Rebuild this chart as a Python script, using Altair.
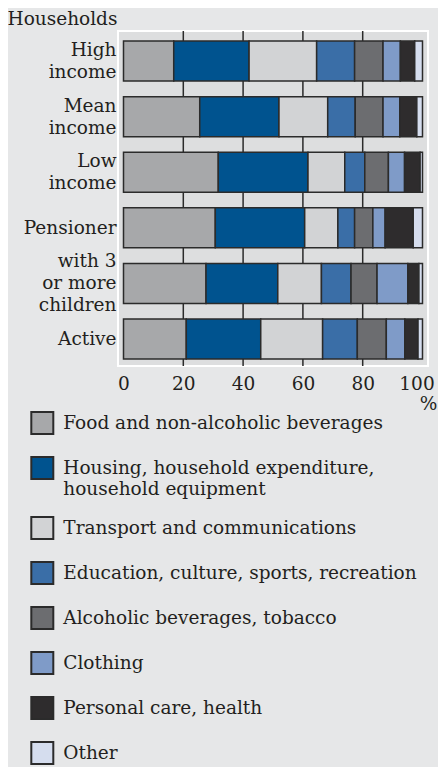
import altair as alt
import pandas as pd

FONT = "DejaVu Serif"
TEXT = "#231f20"

households = ["High income", "Mean income", "Low income", "Pensioner",
              "with 3 or more children", "Active"]
household_lines = [["High", "income"], ["Mean", "income"], ["Low", "income"],
                   ["Pensioner"], ["with 3", "or more", "children"], ["Active"]]

categories = [
    "Food and non-alcoholic beverages",
    "Housing, household expenditure, household equipment",
    "Transport and communications",
    "Education, culture, sports, recreation",
    "Alcoholic beverages, tobacco",
    "Clothing",
    "Personal care, health",
    "Other",
]
category_lines = [
    ["Food and non-alcoholic beverages"],
    ["Housing, household expenditure,", "household equipment"],
    ["Transport and communications"],
    ["Education, culture, sports, recreation"],
    ["Alcoholic beverages, tobacco"],
    ["Clothing"],
    ["Personal care, health"],
    ["Other"],
]
colors = ["#a7a8aa", "#00538f", "#d2d3d5", "#3a6ea7",
          "#6c6d70", "#7f9bc8", "#2e2c2d", "#d5ddee"]

# shares (%) per household, in the order of `households`
food = [16.8, 25.5, 31.7, 30.7, 27.6, 21.0]
housing = [25.2, 26.5, 30.0, 29.9, 24.0, 24.9]
transport = [22.6, 16.3, 12.3, 11.1, 14.6, 20.7]
education = [12.7, 9.2, 6.7, 5.6, 9.9, 11.6]
alcohol = [9.5, 9.3, 7.9, 6.1, 8.7, 9.7]
clothing = [5.8, 5.6, 5.4, 4.1, 10.3, 6.2]
personal = [4.8, 5.7, 5.2, 9.4, 3.7, 4.4]
other = [2.6, 1.9, 0.8, 3.1, 1.2, 1.5]

grid_values = [20, 40, 60, 80]
tick_values = [0, 20, 40, 60, 80, 100]

series = [food, housing, transport, education, alcohol, clothing, personal, other]
rows = []
for ci, (cat, vals) in enumerate(zip(categories, series)):
    for h, v in zip(households, vals):
        rows.append({"household": h, "category": cat, "share": v, "order": ci})
df = pd.DataFrame(rows)
grid_df = pd.DataFrame({"grid": grid_values})

LINE_H = 22


def arr(lines):
    return "[" + ",".join("'" + s + "'" for s in lines) + "]"


y_expr = "datum.label"
for h, lines in reversed(list(zip(households, household_lines))):
    y_expr = f"datum.label == '{h}' ? {arr(lines)} : ({y_expr})"

# shift multi-line labels up so the block is centred on the bar
y_offset_conditions = [
    {"test": f"datum.label == '{h}'", "value": -(len(lines) - 1) * LINE_H / 2}
    for h, lines in zip(households, household_lines) if len(lines) > 1
]

leg_expr = "datum.label"
for c, lines in reversed(list(zip(categories, category_lines))):
    if len(lines) > 1:
        leg_expr = f"datum.label == '{c}' ? {arr(lines)} : ({leg_expr})"

x_scale = alt.Scale(domain=[-1.84, 101.84], nice=False, zero=False)
x_axis = alt.Axis(values=tick_values, grid=False, ticks=False, domain=False,
                  labelFont=FONT, labelFontSize=18.5, labelColor=TEXT,
                  labelPadding=8, format="d",
                  labelOffset={"condition": {"test": "datum.value == 100", "value": -6},
                               "value": 0},
                  title="%", titleFont=FONT, titleFontSize=18.5,
                  titleFontWeight="normal", titleColor=TEXT,
                  titleX=310, titleY=37, titleAlign="center",
                  titleBaseline="middle")

rules = alt.Chart(grid_df).mark_rule(color="#2b2b2b", strokeWidth=1.5).encode(
    x=alt.X("grid:Q", scale=x_scale, axis=x_axis)
)

bars = alt.Chart(df).mark_bar(stroke="#2b2b2b", strokeWidth=1.5).encode(
    y=alt.Y("household:N", sort=households,
            scale=alt.Scale(paddingInner=0.2806, paddingOuter=0.1529, align=0.59),
            axis=alt.Axis(title=None, ticks=False, domain=False,
                          labelFont=FONT, labelFontSize=18.5, labelColor=TEXT,
                          labelPadding=2, labelLineHeight=LINE_H,
                          labelOffset={"condition": y_offset_conditions, "value": 0},
                          labelExpr=y_expr, labelLimit=200)),
    x=alt.X("share:Q", stack="zero", scale=x_scale, axis=x_axis),
    color=alt.Color("category:N", sort=categories,
                    scale=alt.Scale(domain=categories, range=colors),
                    legend=alt.Legend(orient="none", legendX=-87.7, legendY=380,
                                      direction="vertical", title=None,
                                      symbolType="square", symbolSize=484,
                                      symbolStrokeColor="#2b2b2b",
                                      symbolStrokeWidth=2, symbolOpacity=1,
                                      labelFont=FONT, labelFontSize=18.5,
                                      labelColor=TEXT, labelOffset=9,
                                      rowPadding=15, labelLimit=400,
                                      labelExpr=leg_expr, padding=0)),
    order=alt.Order("order:Q"),
)

chart = alt.layer(rules, bars).properties(
    width=310,
    height=335,
    background="#e6e7e8",
    padding={"left": 110, "top": 23, "right": 10, "bottom": 401},
    autosize=alt.AutoSizeParams(type="none"),
    title=alt.Title("Households", anchor="start", frame="group",
                    font=FONT, fontSize=18.5, fontWeight="normal",
                    color=TEXT, dx=-110.5, offset=1.5),
).configure_view(fill="#dddedf", stroke="#ffffff", strokeWidth=2)

chart.save("out.html", embed_options={"renderer": "svg", "actions": False})
